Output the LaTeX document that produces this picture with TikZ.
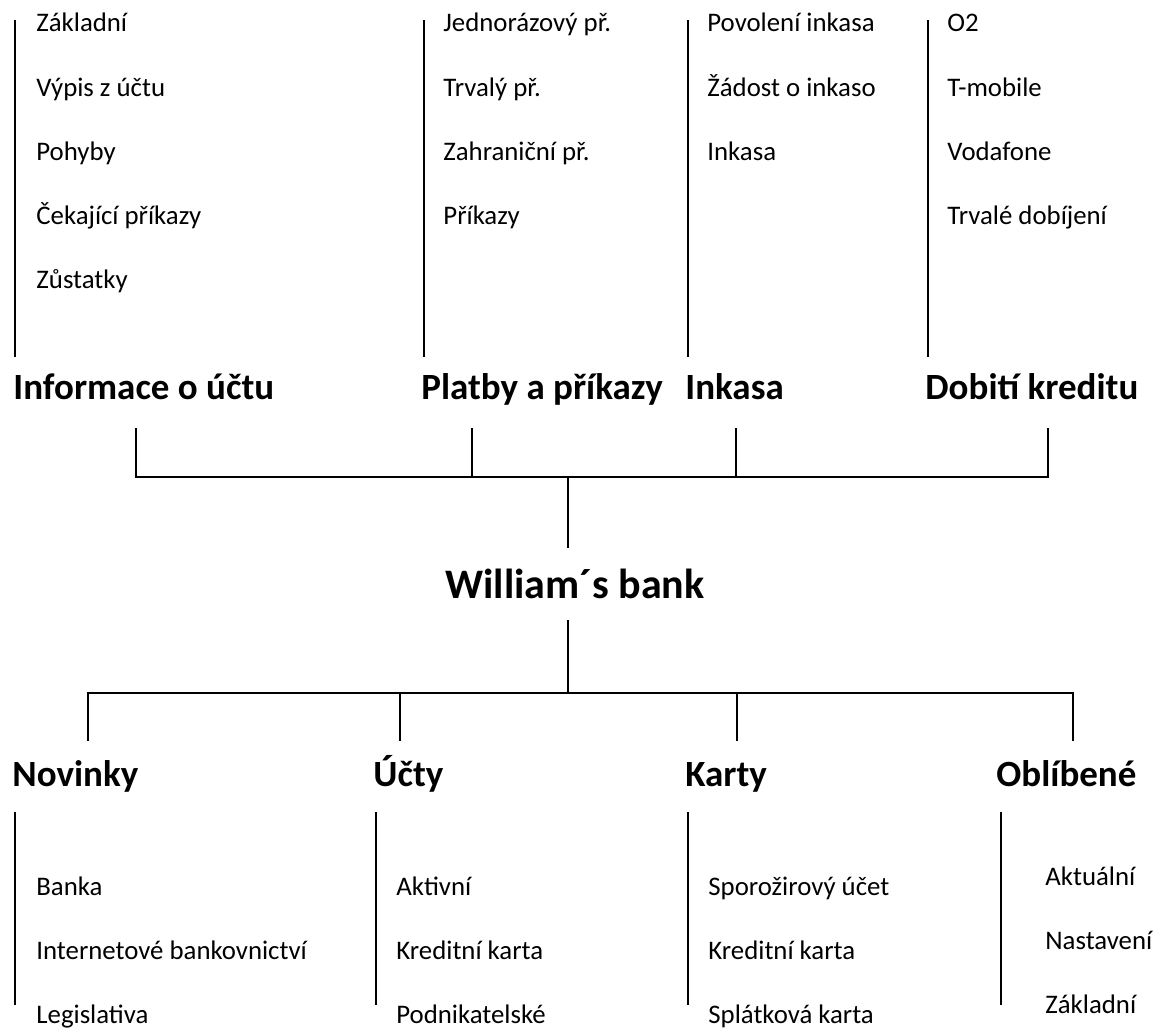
\documentclass[tikz,border=0pt]{standalone}
\usepackage{fontspec}
\setmainfont{Carlito}
\usetikzlibrary{positioning}
\tikzset{
	item/.style={
		anchor=base west,
		inner sep=0pt,
		font=\fontsize{13.4}{16}\selectfont
	},
	nextitem/.style={
		item,
		below=of #1.base west,
		anchor=base west
	},
	heading/.style={
		anchor=base west,
		inner sep=0pt,
		font=\fontsize{18.5}{22}\selectfont\bfseries
	},
	root/.style={
		anchor=base west,
		inner sep=0pt,
		font=\fontsize{21}{25}\selectfont\bfseries
	},
	bar/.style={
		draw=black,
		line width=1pt
	},
}

\begin{document}
\begin{tikzpicture}[x=0.5pt,y=-0.5pt,node distance=32pt]
\useasboundingbox (0,0) rectangle (1154,1028);

% horni cast
\node [item] (info1) at (36,32) {Základní};
\node [nextitem=info1] (info2) {Výpis z účtu};
\node [nextitem=info2] (info3) {Pohyby};
\node [nextitem=info3] (info4) {Čekající příkazy};
\node [nextitem=info4] (info5) {Zůstatky};

\node [item] (plat1) at (443,32) {Jednorázový př.};
\node [nextitem=plat1] (plat2) {Trvalý př.};
\node [nextitem=plat2] (plat3) {Zahraniční př.};
\node [nextitem=plat3] (plat4) {Příkazy};

\node [item] (ink1) at (707,32) {Povolení inkasa};
\node [nextitem=ink1] (ink2) {Žádost o inkaso};
\node [nextitem=ink2] (ink3) {Inkasa};

\node [item] (dob1) at (947,32) {O2};
\node [nextitem=dob1] (dob2) {T-mobile};
\node [nextitem=dob2] (dob3) {Vodafone};
\node [nextitem=dob3] (dob4) {Trvalé dobíjení};

\draw [bar] (15,20) -- (15,357);
\draw [bar] (424,20) -- (424,357);
\draw [bar] (688,20) -- (688,357);
\draw [bar] (928,20) -- (928,357);

\node [heading] (info) at (13,399) {Informace o účtu};
\node [heading] (plat) at (421,399) {Platby a příkazy};
\node [heading] (ink) at (685,399) {Inkasa};
\node [heading] (dob) at (925,399) {Dobití kreditu};

% koren
\node [root] (bank) at (445,598) {William´s bank};

\coordinate (t1) at (136,428);
\coordinate (t2) at (472,428);
\coordinate (t3) at (736,428);
\coordinate (t4) at (1048,428);
\coordinate (up) at (568,477);
\coordinate (bankin) at (568,548);
\coordinate (bankout) at (568,620);
\coordinate (down) at (568,693);

\draw [bar] (t1) |- (up) -| (t4);
\draw [bar] (t2) -- (t2 |- up);
\draw [bar] (t3) -- (t3 |- up);
\draw [bar] (up) -- (bankin);

\coordinate (b1) at (88,741);
\coordinate (b2) at (400,741);
\coordinate (b3) at (737,741);
\coordinate (b4) at (1073,741);

\draw [bar] (bankout) -- (down);
\draw [bar] (b1) |- (down) -| (b4);
\draw [bar] (b2) -- (b2 |- down);
\draw [bar] (b3) -- (b3 |- down);

% dolni cast
\node [heading] (nov) at (12,786) {Novinky};
\node [heading] (uct) at (373,786) {Účty};
\node [heading] (kar) at (685,786) {Karty};
\node [heading] (obl) at (996,786) {Oblíbené};

\draw [bar] (15,812) -- (15,1005);
\draw [bar] (376,812) -- (376,1005);
\draw [bar] (688,812) -- (688,1005);
\draw [bar] (1001,812) -- (1001,1005);

\node [item] (nov1) at (36,895) {Banka};
\node [nextitem=nov1] (nov2) {Internetové bankovnictví};
\node [nextitem=nov2] (nov3) {Legislativa};

\node [item] (uct1) at (396,895) {Aktivní};
\node [nextitem=uct1] (uct2) {Kreditní karta};
\node [nextitem=uct2] (uct3) {Podnikatelské};

\node [item] (kar1) at (708,895) {Sporožirový účet};
\node [nextitem=kar1] (kar2) {Kreditní karta};
\node [nextitem=kar2] (kar3) {Splátková karta};

\node [item] (obl1) at (1045,885) {Aktuální};
\node [nextitem=obl1] (obl2) {Nastavení};
\node [nextitem=obl2] (obl3) {Základní};
\end{tikzpicture}
\end{document}
